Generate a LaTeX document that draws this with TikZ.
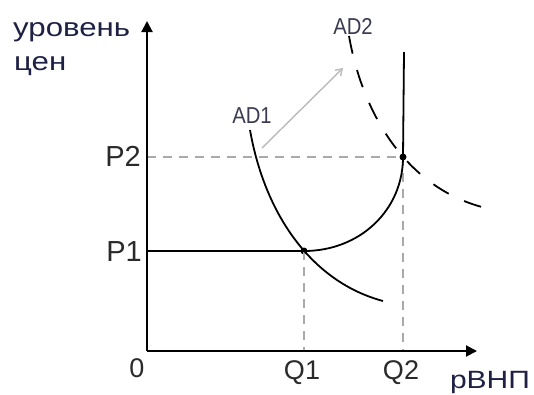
\documentclass[tikz,border=0pt]{standalone}
\usepackage{fontspec}
\setmainfont{Liberation Sans}
\newfontfamily\widefont[FakeStretch=1.2]{Liberation Sans}
\newfontfamily\narrowfont[FakeStretch=0.88]{Liberation Sans}
\usetikzlibrary{arrows.meta}
\definecolor{navytxt}{HTML}{1E2044}
\definecolor{lbl}{HTML}{2A2A2A}
\definecolor{adlbl}{HTML}{3A3A50}
\definecolor{guide}{HTML}{AAAAAA}
\definecolor{shiftgray}{HTML}{BBBBBB}
\begin{document}
\begin{tikzpicture}[x=1pt,y=-1pt,
  axis/.style={line width=2pt,-{Triangle[length=11pt,width=11pt]}},
  curve/.style={line width=1.8pt},
  guideline/.style={guide,line width=1.3pt,dash pattern=on 9pt off 7pt},
  adtwo/.style={line width=1.8pt,dash pattern=on 18pt off 17pt},
  shiftarrow/.style={shiftgray,line width=1.4pt,-{Straight Barb[length=6pt,width=8pt]}},
  lab/.style={inner sep=0pt,text=lbl,font=\fontsize{29}{29}\selectfont},
  qlab/.style={inner sep=0pt,text=lbl,font=\fontsize{27}{27}\selectfont},
  adlab/.style={inner sep=0pt,text=adlbl,font=\narrowfont\fontsize{23}{23}\selectfont},
  axlab/.style={inner sep=0pt,text=navytxt,font=\widefont\fontsize{26}{26}\selectfont},
  dot/.style={circle,fill=black,inner sep=0pt,minimum size=7pt},
]
\useasboundingbox (0,0) rectangle (534,394);
% axes
\coordinate (O) at (147,351);
\coordinate (Ytop) at (147,21);
\coordinate (Xend) at (477,351);
\coordinate (P1y) at (147,251);
\coordinate (P2y) at (147,157);
\coordinate (Q1x) at (304,351);
\coordinate (Q2x) at (403,351);
\coordinate (LRtop) at (404,52);
\node[dot] (A) at (304,251) {};
\node[dot] (B) at (403,157) {};
% guides
\draw[guideline] (P2y) -- (B.center);
\draw[guideline] (A.center) -- (Q1x);
\draw[guideline] (B.center) -- (Q2x);
% shift arrow
\coordinate (sh1) at (262,148);
\coordinate (sh2) at (343,68);
\draw[shiftarrow] (sh1) -- (sh2);
% AS curve
\draw[curve] (P1y) -- (A.center) .. controls (360,251) and (403,210) .. (B.center) -- (LRtop);
% AD1
\coordinate (AD1s) at (250,130);
\coordinate (AD1e) at (383,301);
\draw[curve] (AD1s) .. controls (265,215) and (312,282) .. (AD1e);
% AD2
\coordinate (AD2s) at (349,36);
\coordinate (AD2e) at (482,207);
\draw[adtwo] (AD2s) .. controls (364,121) and (411,188) .. (AD2e);
% axes on top
\draw[axis] (O) -- (Ytop);
\draw[axis] (O) -- (Xend);
% labels
\node[axlab,anchor=base west] (yl1) at (13,36) {уровень};
\node[axlab,anchor=base west] (yl2) at (14,70) {цен};
\node[axlab,anchor=base] (xl) at (490,388) {\fontsize{25}{25}\selectfont рВНП};
\node[lab] (P2) at (123,156) {P2};
\node[lab] (P1) at (124,252) {P1};
\node[qlab] (zero) at (137,368) {0};
\node[qlab] (Q1) at (302,373) {Q1};
\node[qlab] (Q2) at (401,373) {Q2};
\node[adlab] (ad1) at (252,116) {AD1};
\node[adlab] (ad2) at (353,26) {AD2};
\end{tikzpicture}
\end{document}
